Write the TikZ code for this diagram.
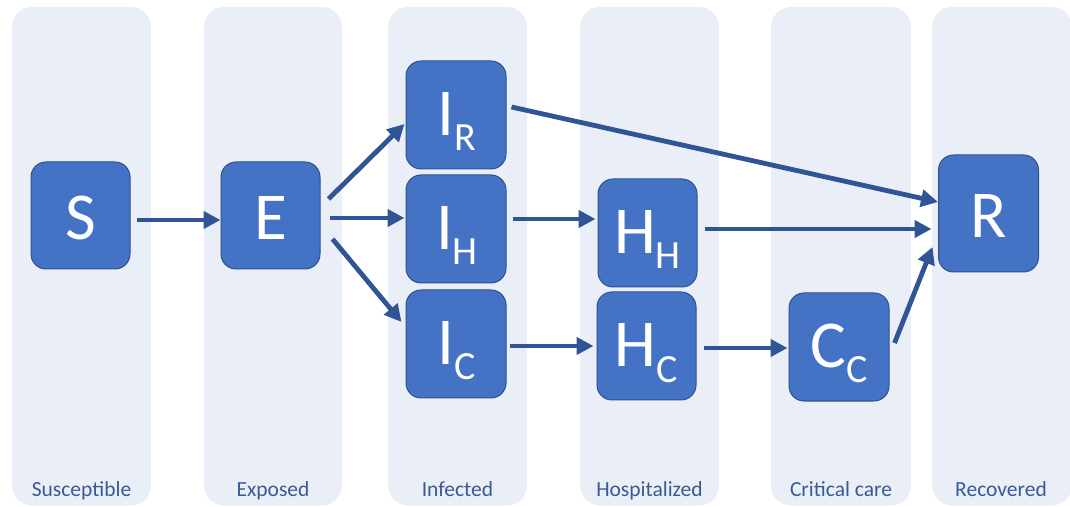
\documentclass[tikz,border=0pt]{standalone}
\usepackage{fontspec}
\setmainfont{Carlito}
\usetikzlibrary{arrows.meta,calc}
\definecolor{lanefill}{RGB}{233,238,247}
\definecolor{boxfill}{RGB}{68,114,196}
\definecolor{boxline}{RGB}{47,82,143}
\definecolor{arrowcol}{RGB}{47,85,151}
\definecolor{labelcol}{RGB}{58,90,148}
\tikzset{
  lane/.style={fill=lanefill,draw=none,rounded corners=20pt},
  lanelabel/.style={text=labelcol,font=\fontsize{21.5}{21.5}\selectfont,anchor=base,inner sep=0pt},
  comp/.style={fill=boxfill,draw=boxline,line width=1pt,rounded corners=15pt,minimum width=99pt,minimum height=107pt,inner sep=0pt},
  letter/.style={text=white,font=\fontsize{67}{67}\selectfont,anchor=base,inner sep=0pt},
  flow/.style={draw=arrowcol,line width=4.8pt,-{Triangle[length=17pt,width=17pt]}}
}
\newcommand{\sbs}[1]{\raisebox{-15pt}{\fontsize{40}{40}\selectfont #1}}
\begin{document}
\begin{tikzpicture}[x=1pt,y=1pt]
\useasboundingbox (0,0) rectangle (1070,506);
% lanes
\path[lane] (12,0.5) rectangle (151,499);
\path[lane] (204,0.5) rectangle (342,499);
\path[lane] (388,0.5) rectangle (527,499);
\path[lane] (580,0.5) rectangle (719,499);
\path[lane] (771,0.5) rectangle (911,499);
\path[lane] (932,0.5) rectangle (1072,499);
\node[lanelabel] (l1) at (81.5,10) {Susceptible};
\node[lanelabel] (l2) at (273,10) {Exposed};
\node[lanelabel] (l3) at (457.5,10) {Infected};
\node[lanelabel] (l4) at (649.5,10) {Hospitalized};
\node[lanelabel] (l5) at (841,10) {Critical care};
\node[lanelabel] (l6) at (1001,10) {Recovered};
% compartments
\node[comp] (S) at (80.5,290.5) {};
\node[comp] (E) at (270.5,290.5) {};
\node[comp,minimum width=100pt,minimum height=108pt] (IR) at (456,391) {};
\node[comp,minimum width=100pt,minimum height=108pt] (IH) at (456,277) {};
\node[comp,minimum width=100pt,minimum height=108pt] (IC) at (456,162) {};
\node[comp,minimum height=108pt] (HH) at (647.5,273) {};
\node[comp,minimum height=108pt] (HC) at (646.5,160) {};
\node[comp,minimum width=100pt,minimum height=108pt] (CC) at (839,159) {};
\node[comp,minimum width=100pt,minimum height=117pt] (R) at (988.5,292.5) {};
% letters
\node[letter] (tS) at ($(S.center)+(0,-24)$) {S};
\node[letter] (tE) at ($(E.center)+(0,-24)$) {E};
\node[letter] (tIR) at ($(IR.center)+(1,-21)$) {I\sbs{R}};
\node[letter] (tIH) at ($(IH.center)+(1,-21)$) {I\sbs{H}};
\node[letter] (tIC) at ($(IC.center)+(1,-21)$) {I\sbs{C}};
\node[letter] (tHH) at ($(HH.center)+(0,-21)$) {H\sbs{H}};
\node[letter] (tHC) at ($(HC.center)+(0,-21)$) {H\sbs{C}};
\node[letter] (tCC) at ($(CC.center)+(0,-21)$) {C\sbs{C}};
\node[letter] (tR) at ($(R.center)+(0,-24)$) {R};
% flows
\draw[flow] ($(S.east)+(6,-4.5)$) -- ($(E.west)+(0,-4.5)$);
\draw[flow] ($(E.east)+(8,16.5)$) -- ($(IR.west)+(-1,-9)$);
\draw[flow] ($(E.east)+(9,-2.5)$) -- ($(IH.west)+(-1,11)$);
\draw[flow] ($(E.east)+(12,-23.5)$) -- ($(IC.west)+(-4,22)$);
\draw[flow] ($(IR.east)+(5,8)$) -- ($(R.west)+(0,11.5)$);
\draw[flow] ($(IH.east)+(6,10)$) -- ($(HH.west)+(-2,14)$);
\draw[flow] ($(HH.east)+(7,4)$) -- ($(R.west)+(-6.5,-15.5)$);
\draw[flow] ($(IC.east)+(3,-2)$) -- ($(HC.west)+(-3,0)$);
\draw[flow] ($(HC.east)+(7,-2)$) -- ($(CC.west)+(-1,-1)$);
\draw[flow] ($(CC.east)+(5,4)$) -- ($(R.west)+(-5.5,-33.5)$);
\end{tikzpicture}
\end{document}
